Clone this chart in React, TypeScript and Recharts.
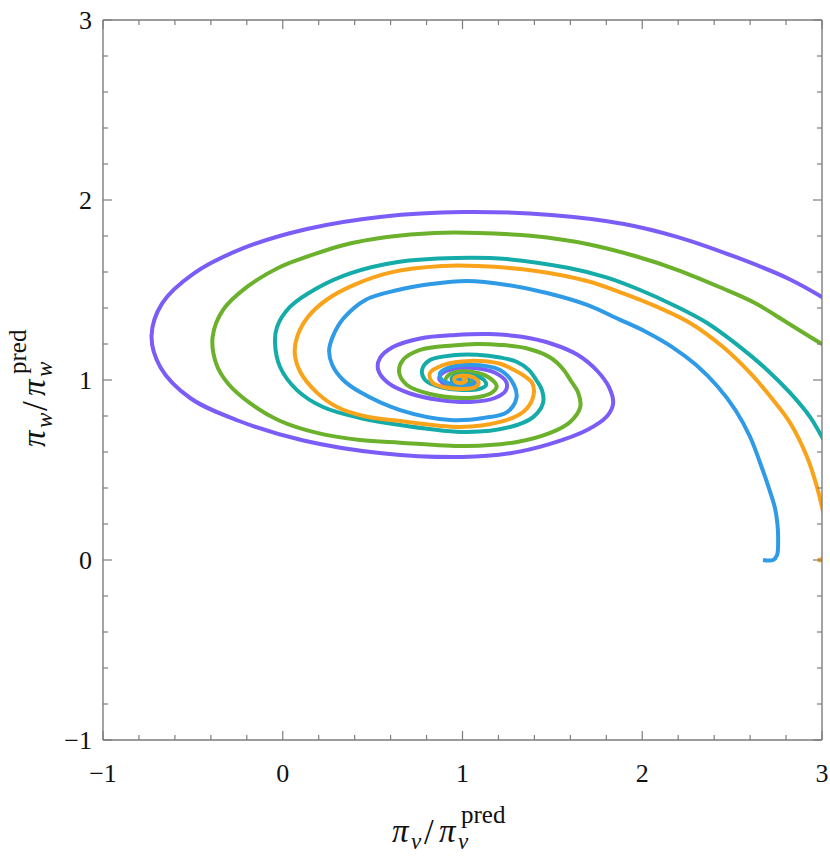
import React from 'react';
import { LineChart, Line, XAxis, YAxis } from 'recharts';

// tick positions (every 0.2), only the integers get a label
const axisTicks = [-1, -0.8, -0.6, -0.4, -0.2, 0, 0.2, 0.4, 0.6, 0.8, 1, 1.2, 1.4, 1.6, 1.8, 2, 2.2, 2.4, 2.6, 2.8, 3];
const majorTicks = [-1, 0, 1, 2, 3];

// trajectories, [pi_v, pi_w] in order of time
const violetPath = [
  [3.38, 1.16], [3.2, 1.33], [3.0, 1.461], [2.805, 1.567], [2.504, 1.689], [2.198, 1.794], [1.898, 1.867],
  [1.492, 1.917], [1.0, 1.933], [0.552, 1.907], [0.135, 1.839], [-0.223, 1.731], [-0.498, 1.59],
  [-0.671, 1.426], [-0.73, 1.245], [-0.68, 1.07], [-0.515, 0.9], [-0.25, 0.775], [0.115, 0.664],
  [0.552, 0.593], [1.0, 0.572], [1.265, 0.593], [1.488, 0.645], [1.693, 0.722], [1.805, 0.8], [1.838, 0.87],
  [1.815, 0.96], [1.75, 1.05], [1.64, 1.14], [1.5, 1.2], [1.33, 1.24], [1.15, 1.255], [0.96, 1.25],
  [0.764, 1.231], [0.613, 1.183], [0.541, 1.122], [0.53, 1.06], [0.58, 0.989], [0.708, 0.925],
  [0.875, 0.889], [1.042, 0.878], [1.18, 0.9], [1.24, 0.94], [1.245, 0.985], [1.2, 1.03], [1.1, 1.062],
  [0.98, 1.065], [0.9, 1.045], [0.87, 1.01], [0.9, 0.978], [0.98, 0.963], [1.05, 0.968], [1.075, 0.99],
  [1.05, 1.015], [0.99, 1.02], [0.96, 1.005], [0.975, 0.99], [1.01, 0.99], [1.02, 1.0], [1.0, 1.006], [0.995, 1.0],
];

const greenPath = [
  [2.98, 0], [3.08, 0], [3.3, 0.06], [3.45, 0.3], [3.5, 0.65], [3.4, 0.95], [3.2, 1.1], [3.0, 1.2],
  [2.917, 1.25], [2.783, 1.333], [2.627, 1.428], [2.443, 1.511], [2.198, 1.611], [1.96, 1.689], [1.693, 1.756],
  [1.392, 1.8], [1.086, 1.817], [0.847, 1.817], [0.58, 1.794], [0.341, 1.75], [0.135, 1.685], [-0.015, 1.628],
  [-0.199, 1.517], [-0.332, 1.389], [-0.39, 1.24], [-0.37, 1.09], [-0.3, 0.975], [-0.18, 0.87],
  [-0.02, 0.775], [0.191, 0.706], [0.43, 0.667], [0.653, 0.652], [1.026, 0.633], [1.304, 0.656],
  [1.488, 0.706], [1.599, 0.767], [1.655, 0.85], [1.644, 0.928], [1.6, 1.0], [1.56, 1.06], [1.488, 1.125],
  [1.36, 1.175], [1.21, 1.195], [1.08, 1.2], [0.947, 1.192], [0.764, 1.167], [0.669, 1.111], [0.647, 1.044],
  [0.691, 0.972], [0.819, 0.922], [1.0, 0.9], [1.11, 0.91], [1.17, 0.935], [1.19, 0.965], [1.16, 1.005],
  [1.08, 1.04], [0.98, 1.047], [0.92, 1.025], [0.905, 0.99], [0.95, 0.97], [1.02, 0.972], [1.05, 0.992],
  [1.03, 1.013], [0.98, 1.013], [0.975, 0.995], [1.005, 0.992], [1.0, 1.0],
];

const tealPath = [
  [3.2, 0.1], [3.13, 0.45], [3.0, 0.683], [2.934, 0.794], [2.823, 0.928], [2.695, 1.056], [2.545, 1.183],
  [2.361, 1.317], [2.172, 1.417], [1.988, 1.5], [1.8, 1.57], [1.592, 1.622], [1.247, 1.672], [0.963, 1.678],
  [0.641, 1.656], [0.379, 1.594], [0.19, 1.51], [0.04, 1.406], [-0.032, 1.294], [-0.043, 1.206],
  [-0.015, 1.072], [0.079, 0.944], [0.224, 0.85], [0.43, 0.789], [0.653, 0.75], [1.026, 0.711],
  [1.265, 0.739], [1.393, 0.794], [1.448, 0.872], [1.442, 0.944], [1.41, 1.0], [1.37, 1.055], [1.304, 1.1],
  [1.209, 1.125], [1.08, 1.14], [0.947, 1.137], [0.819, 1.111], [0.775, 1.056], [0.792, 1.0], [0.875, 0.961],
  [1.0, 0.945], [1.09, 0.95], [1.13, 0.97], [1.12, 1.0], [1.06, 1.025], [0.98, 1.03], [0.94, 1.01],
  [0.95, 0.985], [1.0, 0.978], [1.03, 0.99], [1.02, 1.006], [0.99, 1.005], [1.0, 1.0],
];

const orangePath = [
  [2.975, 0], [3.0, 0.005], [3.02, 0.06], [3.025, 0.15], [3.015, 0.23], [3.0, 0.294], [2.972, 0.406],
  [2.917, 0.572], [2.823, 0.761], [2.728, 0.889], [2.6, 1.039], [2.45, 1.183], [2.266, 1.317], [2.083, 1.406],
  [1.898, 1.48], [1.693, 1.55], [1.409, 1.606], [1.086, 1.633], [0.886, 1.633], [0.602, 1.598], [0.4, 1.53],
  [0.25, 1.45], [0.14, 1.35], [0.08, 1.24], [0.067, 1.145], [0.1, 1.04], [0.19, 0.93], [0.302, 0.85],
  [0.45, 0.8], [0.653, 0.772], [0.987, 0.739], [1.209, 0.767], [1.337, 0.822],
  [1.393, 0.906], [1.388, 0.983], [1.337, 1.027], [1.265, 1.067], [1.209, 1.09], [1.042, 1.106],
  [0.892, 1.083], [0.819, 1.039], [0.83, 0.989], [0.892, 0.961], [1.002, 0.95], [1.07, 0.96], [1.09, 0.985],
  [1.06, 1.015], [1.0, 1.025], [0.955, 1.01], [0.96, 0.99], [1.0, 0.985], [1.02, 0.995], [1.01, 1.007], [1.0, 1.0],
];

const bluePath = [
  [2.672, 0], [2.728, 0], [2.75, 0.028], [2.756, 0.111], [2.752, 0.2], [2.738, 0.29], [2.711, 0.38],
  [2.67, 0.5], [2.599, 0.686], [2.519, 0.832], [2.418, 0.965], [2.3, 1.083], [2.167, 1.183], [2.022, 1.267],
  [1.871, 1.337], [1.693, 1.417], [1.47, 1.483], [1.248, 1.528], [1.025, 1.55], [0.825, 1.533], [0.641, 1.5],
  [0.46, 1.445], [0.336, 1.34], [0.28, 1.245], [0.258, 1.165], [0.275, 1.085], [0.336, 1.0], [0.43, 0.933],
  [0.653, 0.833], [0.931, 0.778], [1.115, 0.789], [1.248, 0.822], [1.3, 0.9], [1.285, 0.975], [1.209, 1.056],
  [1.042, 1.085], [0.931, 1.072], [0.875, 1.039], [0.886, 1.0], [0.947, 0.978], [1.042, 0.972], [1.07, 0.99],
  [1.04, 1.015], [0.99, 1.02], [0.97, 1.003], [1.0, 0.99], [1.015, 1.0], [1.0, 1.0],
];

const series = [
  { name: 'violet', path: violetPath, color: '#7c5cf6' },
  { name: 'green', path: greenPath, color: '#6bb12c' },
  { name: 'teal', path: tealPath, color: '#15aba8' },
  { name: 'blue', path: bluePath, color: '#2f9ae5' },
  { name: 'orange', path: orangePath, color: '#f9a31b' },
];

const FRAME = '#7d7d7d';
const SERIF = 'Liberation Serif, Times New Roman, DejaVu Serif, serif';

const fmt = (v: number) => (v < 0 ? '\u2212' + Math.abs(v) : String(v));
const isMajor = (v: number) => majorTicks.includes(v);

// centripetal catmull-rom through the points, written out as cubic beziers
const catmullRom = (context: any) => {
  let pts: number[][] = [];
  return {
    areaStart() {},
    areaEnd() {},
    lineStart() {
      pts = [];
    },
    point(x: number, y: number) {
      pts.push([+x, +y]);
    },
    lineEnd() {
      const n = pts.length;
      if (!n) return;
      context.moveTo(pts[0][0], pts[0][1]);
      const d = (a: number[], b: number[]) => Math.sqrt(Math.hypot(a[0] - b[0], a[1] - b[1]));
      for (let i = 0; i < n - 1; i++) {
        const p1 = pts[i];
        const p2 = pts[i + 1];
        const p0 = i > 0 ? pts[i - 1] : p1;
        const p3 = i + 2 < n ? pts[i + 2] : p2;
        const l01 = d(p0, p1);
        const l12 = d(p1, p2);
        const l23 = d(p2, p3);
        let c1x = p1[0], c1y = p1[1], c2x = p2[0], c2y = p2[1];
        if (l01 > 1e-6) {
          const a = 2 * l01 * l01 + 3 * l01 * l12 + l12 * l12;
          const m = 3 * l01 * (l01 + l12);
          c1x = (p1[0] * a - p0[0] * l12 * l12 + p2[0] * l01 * l01) / m;
          c1y = (p1[1] * a - p0[1] * l12 * l12 + p2[1] * l01 * l01) / m;
        }
        if (l23 > 1e-6) {
          const b = 2 * l23 * l23 + 3 * l23 * l12 + l12 * l12;
          const m = 3 * l23 * (l23 + l12);
          c2x = (p2[0] * b + p1[0] * l23 * l23 - p3[0] * l12 * l12) / m;
          c2y = (p2[1] * b + p1[1] * l23 * l23 - p3[1] * l12 * l12) / m;
        }
        context.bezierCurveTo(c1x, c1y, c2x, c2y, p2[0], p2[1]);
      }
    },
  };
};

const BottomTick = (props: any) => {
  const { x, y, payload } = props;
  const major = isMajor(payload.value);
  return (
    <g>
      <line x1={x} x2={x} y1={y} y2={y - (major ? 9 : 5)} stroke={FRAME} strokeWidth={1.2} />
      {major && (
        <text x={x} y={y + 42} textAnchor="middle" style={{ fontFamily: SERIF }} fontSize={26} fill="#111">
          {fmt(payload.value)}
        </text>
      )}
    </g>
  );
};

const LeftTick = (props: any) => {
  const { x, y, payload } = props;
  const major = isMajor(payload.value);
  return (
    <g>
      <line x1={x} x2={x + (major ? 9 : 5)} y1={y} y2={y} stroke={FRAME} strokeWidth={1.2} />
      {major && (
        <text x={x - 11} y={y + 9} textAnchor="end" style={{ fontFamily: SERIF }} fontSize={26} fill="#111">
          {fmt(payload.value)}
        </text>
      )}
    </g>
  );
};

const TopTick = (props: any) => {
  const { x, y, payload } = props;
  const len = isMajor(payload.value) ? 9 : 5;
  return <line x1={x} x2={x} y1={y} y2={y + len} stroke={FRAME} strokeWidth={1.2} />;
};

const RightTick = (props: any) => {
  const { x, y, payload } = props;
  const len = isMajor(payload.value) ? 9 : 5;
  return <line x1={x} x2={x - len} y1={y} y2={y} stroke={FRAME} strokeWidth={1.2} />;
};

// pi_v / pi_v^pred style label, drawn from its baseline origin
const RatioLabel = ({ sub }: { sub: string }) => {
  const w = sub === 'w' ? 4 : 0;
  return (
    <g style={{ fontFamily: SERIF }} fill="#111">
      <text x={0} y={0} fontSize={33} fontStyle="italic">π</text>
      <text x={19} y={7} fontSize={23} fontStyle="italic">{sub}</text>
      <text x={32 + w} y={2} fontSize={35}>/</text>
      <text x={47 + w} y={0} fontSize={33} fontStyle="italic">π</text>
      <text x={66 + w} y={7} fontSize={23} fontStyle="italic">{sub}</text>
      <text x={69 + w} y={-19} fontSize={25}>pred</text>
    </g>
  );
};

export default function App() {
  return (
    <div style={{ position: 'absolute', left: 0, top: 0, width: 830, height: 856, background: '#fff' }}>
      <LineChart width={830} height={856} margin={{ top: 19, right: 7, bottom: 0, left: 0 }}>
        <XAxis
          dataKey="x"
          type="number"
          domain={[-1, 3]}
          allowDataOverflow
          ticks={axisTicks}
          interval={0}
          height={116}
          tickSize={0}
          tickMargin={0}
          tickLine={false}
          axisLine={{ stroke: FRAME, strokeWidth: 1.4 }}
          tick={(p: any) => <BottomTick {...p} />}
        />
        <XAxis
          xAxisId="top"
          orientation="top"
          dataKey="x"
          type="number"
          domain={[-1, 3]}
          allowDataOverflow
          ticks={axisTicks}
          interval={0}
          height={1}
          tickSize={0}
          tickMargin={0}
          tickLine={false}
          axisLine={{ stroke: FRAME, strokeWidth: 1.4 }}
          tick={(p: any) => <TopTick {...p} />}
        />
        <YAxis
          type="number"
          domain={[-1, 3]}
          allowDataOverflow
          ticks={axisTicks}
          interval={0}
          width={103}
          tickSize={0}
          tickMargin={0}
          tickLine={false}
          axisLine={{ stroke: FRAME, strokeWidth: 1.4 }}
          tick={(p: any) => <LeftTick {...p} />}
        />
        <YAxis
          yAxisId="right"
          orientation="right"
          type="number"
          domain={[-1, 3]}
          allowDataOverflow
          ticks={axisTicks}
          interval={0}
          width={1}
          tickSize={0}
          tickMargin={0}
          tickLine={false}
          axisLine={{ stroke: FRAME, strokeWidth: 1.4 }}
          tick={(p: any) => <RightTick {...p} />}
        />
        {series.map((s) => (
          <Line
            key={s.name}
            data={s.path.map(([x, y]) => ({ x, y }))}
            dataKey="y"
            type={catmullRom as any}
            stroke={s.color}
            strokeWidth={4}
            dot={false}
            activeDot={false}
            isAnimationActive={false}
          />
        ))}
      </LineChart>
      <svg
        width={830}
        height={856}
        style={{ position: 'absolute', left: 0, top: 0, pointerEvents: 'none' }}
      >
        <g transform="translate(392,842)">
          <RatioLabel sub="v" />
        </g>
        <g transform="translate(45,447) rotate(-90)">
          <RatioLabel sub="w" />
        </g>
      </svg>
    </div>
  );
}
